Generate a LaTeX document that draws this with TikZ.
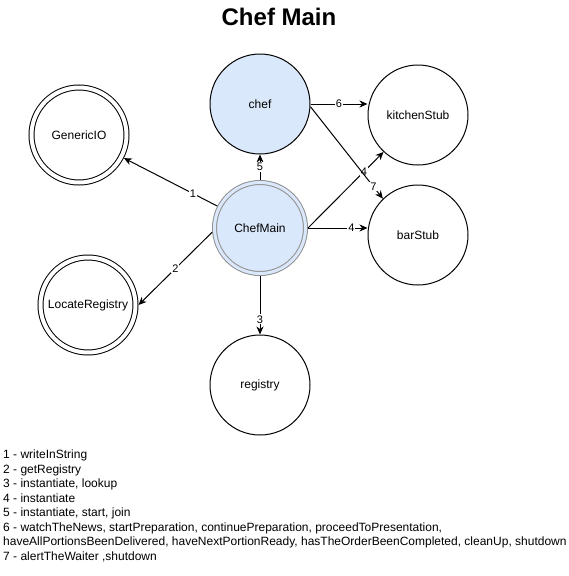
\documentclass[tikz,border=0pt]{standalone}
\usepackage{fontspec}
\setmainfont{Liberation Sans}
\usepackage{xcolor}
\usetikzlibrary{arrows.meta, positioning, calc}

\definecolor{chefblue}{HTML}{DAE8FC}
\definecolor{maingray}{HTML}{8F8F8F}

\tikzset{
  obj/.style={circle, draw, line width=1pt, minimum size=100pt, inner sep=0pt, font=\fontsize{12}{14}\selectfont},
  dobj/.style={obj, minimum size=95pt, double, double distance=4pt, outer sep=3pt},
  call/.style={-{Stealth[length=8pt,width=7pt,inset=2.5pt]}, line width=1pt},
  num/.style={fill=white, inner sep=1pt, font=\fontsize{11}{13}\selectfont},
}

\begin{document}
\begin{tikzpicture}[x=1pt,y=-1pt]
\useasboundingbox (0,0) rectangle (569,576);
% Title
\node[font=\fontsize{24}{28}\selectfont\bfseries] (title) at (279,17) {Chef Main};

% Objects
\node[obj, fill=chefblue] (chef) at (260,104) {chef};
\node[obj] (kitchen) at (418,115) {kitchenStub};
\node[obj] (bar) at (418,235) {barStub};
\node[obj] (reg) at (260,385) {registry};
\node[dobj] (gio) at (79,135) {GenericIO};
\node[dobj] (locreg) at (88,305) {LocateRegistry};
\node[obj, minimum size=91pt, draw=maingray, fill=chefblue, double=chefblue, double distance=3pt, outer sep=2.5pt] (main) at (260,228) {ChefMain};

% Calls
\draw[call] (main) -- node[num, pos=0.26] {1} (gio);
\draw[call] (main.185) -- node[num] {2} (locreg.east);
\draw[call] (main) -- node[num, pos=0.74] {3} (reg);
\draw[call] (main.east) -- node[num, pos=0.73] {4} (main.east -| bar.west);
\draw[call] (main.east) -- node[num, pos=0.74] {4} (kitchen.227);
\draw[call] (main) -- node[num] {5} (chef);
\draw[call] (chef.east) -- node[num] {6} (chef.east -| kitchen.west);
\draw[call] (chef.-3) -- node[num, pos=0.87] {7} (bar.134);

% Legend
\node[anchor=north west, align=left, inner sep=0pt, font=\fontsize{12}{14.5}\selectfont] (legend) at (3,450) {%
1 - writeInString\\
2 - getRegistry\\
3 - instantiate, lookup\\
4 - instantiate\\
5 - instantiate, start, join\\
6 - watchTheNews, startPreparation, continuePreparation, proceedToPresentation,\\
haveAllPortionsBeenDelivered, haveNextPortionReady, hasTheOrderBeenCompleted, cleanUp, shutdown\\
7 - alertTheWaiter ,shutdown};
\end{tikzpicture}
\end{document}
